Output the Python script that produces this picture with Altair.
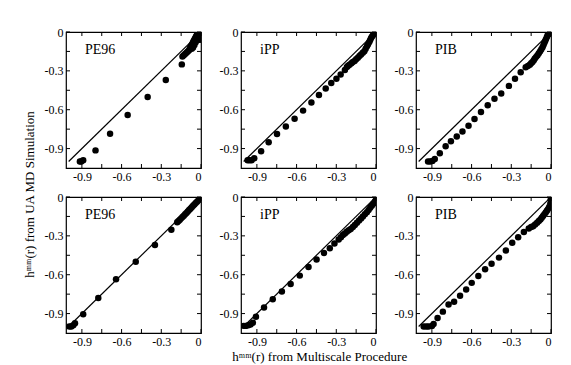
import altair as alt
import pandas as pd

FONT = "Liberation Serif"

# ---- data ----
names = ["PE96", "iPP", "PIB", "PE96", "iPP", "PIB"]

pe96_top_x = [-0.915, -0.905, -0.89, -0.797, -0.687, -0.554, -0.403, -0.266, -0.145,
              -0.14, -0.13, -0.12, -0.11, -0.10, -0.09, -0.085, -0.08, -0.075, -0.07,
              -0.065, -0.06, -0.055, -0.05, -0.045, -0.04, -0.035, -0.03, -0.025, -0.02,
              -0.015, -0.01, -0.05, -0.04, -0.03, -0.02, -0.06, -0.07, -0.01, -0.005]
pe96_top_y = [-1.0, -1.0, -0.99, -0.914, -0.785, -0.641, -0.502, -0.371, -0.25,
              -0.19, -0.18, -0.17, -0.16, -0.15, -0.14, -0.13, -0.12, -0.11, -0.10,
              -0.09, -0.08, -0.07, -0.06, -0.05, -0.04, -0.03, -0.02, -0.015, -0.01,
              -0.005, 0.0, -0.1, -0.08, -0.06, -0.04, -0.12, -0.13, -0.06, -0.03]

ipp_top_x = [-0.97, -0.955, -0.94, -0.92, -0.868, -0.811, -0.748, -0.681, -0.615, -0.551,
             -0.488, -0.431, -0.38, -0.338, -0.299, -0.267, -0.235,
             -0.22, -0.211, -0.2, -0.186, -0.175, -0.162, -0.15, -0.137, -0.125, -0.113,
             -0.1, -0.088, -0.078, -0.068, -0.06, -0.051, -0.044, -0.037, -0.03, -0.022,
             -0.016, -0.01, -0.005]
ipp_top_y = [-0.99, -0.99, -0.99, -0.975, -0.92, -0.852, -0.787, -0.729, -0.669, -0.607,
             -0.544, -0.486, -0.436, -0.393, -0.361, -0.328, -0.293,
             -0.27, -0.261, -0.252, -0.241, -0.232, -0.223, -0.21, -0.198, -0.186, -0.173,
             -0.16, -0.148, -0.13, -0.11, -0.094, -0.078, -0.062, -0.047, -0.035, -0.023,
             -0.015, -0.01, -0.004]

pib_top_x = [-0.929, -0.911, -0.896, -0.878, -0.84, -0.796, -0.756, -0.712, -0.669, -0.623,
             -0.578, -0.529, -0.478, -0.427, -0.376, -0.318, -0.272, -0.229, -0.191,
             -0.175, -0.16, -0.15, -0.14, -0.13, -0.122, -0.112, -0.102, -0.092, -0.082,
             -0.073, -0.064, -0.057, -0.051, -0.044, -0.038, -0.031, -0.025, -0.019,
             -0.013, -0.007]
pib_top_y = [-1.0, -1.0, -0.995, -0.98, -0.937, -0.882, -0.844, -0.807, -0.769, -0.724,
             -0.672, -0.617, -0.566, -0.516, -0.474, -0.416, -0.361, -0.311, -0.273,
             -0.262, -0.253, -0.242, -0.231, -0.218, -0.205, -0.192, -0.18, -0.164, -0.148,
             -0.133, -0.118, -0.1, -0.085, -0.07, -0.055, -0.039, -0.023, -0.016,
             -0.01, -0.004]

pe96_bot_x = [-0.995, -0.98, -0.965, -0.952, -0.89, -0.776, -0.642, -0.493, -0.348, -0.224,
              -0.18, -0.17, -0.16, -0.15, -0.14, -0.13, -0.12, -0.11, -0.10, -0.09,
              -0.08, -0.07, -0.06, -0.05, -0.04, -0.03, -0.02, -0.01, 0.0]
pe96_bot_y = [-1.0, -1.0, -0.99, -0.975, -0.905, -0.78, -0.635, -0.5, -0.37, -0.253,
              -0.195, -0.185, -0.175, -0.165, -0.155, -0.145, -0.134, -0.123, -0.112, -0.101,
              -0.09, -0.079, -0.068, -0.057, -0.046, -0.036, -0.026, -0.016, -0.008]

ipp_bot_x = [-1.0, -0.985, -0.965, -0.948, -0.93, -0.907, -0.846, -0.78, -0.711, -0.645,
             -0.576, -0.51, -0.449, -0.393, -0.349, -0.314, -0.282,
             -0.265, -0.25, -0.235, -0.221, -0.206, -0.191, -0.175, -0.16, -0.144, -0.128,
             -0.113, -0.099, -0.084, -0.069, -0.056, -0.044, -0.032, -0.02, -0.01, -0.003]
ipp_bot_y = [-0.995, -0.995, -0.99, -0.985, -0.97, -0.924, -0.854, -0.789, -0.729, -0.672,
             -0.607, -0.541, -0.482, -0.432, -0.396, -0.359, -0.328,
             -0.31, -0.294, -0.281, -0.268, -0.257, -0.247, -0.232, -0.216, -0.199, -0.182,
             -0.166, -0.151, -0.134, -0.117, -0.1, -0.083, -0.067, -0.052, -0.038, -0.026]

pib_bot_x = [-0.962, -0.942, -0.925, -0.9, -0.887, -0.857, -0.817, -0.774, -0.732, -0.687,
             -0.641, -0.599, -0.549, -0.498, -0.449, -0.393, -0.341, -0.293, -0.248, -0.205,
             -0.168, -0.15, -0.135, -0.12, -0.105, -0.092, -0.08, -0.07, -0.06, -0.05,
             -0.04, -0.031, -0.023, -0.014, -0.005, -0.002]
pib_bot_y = [-1.0, -1.0, -1.0, -0.995, -0.98, -0.935, -0.885, -0.83, -0.808, -0.762,
             -0.715, -0.663, -0.61, -0.558, -0.515, -0.468, -0.413, -0.353, -0.31, -0.27,
             -0.243, -0.232, -0.225, -0.212, -0.199, -0.186, -0.173, -0.16, -0.147, -0.134,
             -0.12, -0.107, -0.094, -0.078, -0.05, -0.02]

diag = [-1.0, 0.0]
tick_values = [-0.9, -0.75, -0.6, -0.45, -0.3, -0.15, 0.0]
label_values = [-0.9, -0.6, -0.3, 0.0]

x_title = "hᵐᵐ(r) from Multiscale Procedure"
y_title = "hᵐᵐ(r) from UA MD Simulation"

# ---- chart ----
W, H = 135, 136
XDOM = [-1.02, 0]
YDOM = [-1.05, 0]
TL = 4
LABEL_EXPR = "datum.value == 0 ? '0' : '-0.' + round(-datum.value * 10)"


def make_axis():
    return alt.Axis(values=label_values, labelExpr=LABEL_EXPR, tickSize=0, domain=False,
                    grid=False, title=None, labelFont=FONT, labelFontSize=12,
                    labelColor="black", labelPadding=3)


def panel(name, xs, ys):
    xsc = alt.Scale(domain=XDOM, nice=False, zero=False)
    ysc = alt.Scale(domain=YDOM, nice=False, zero=False)
    pts = pd.DataFrame({"x": xs, "y": ys})
    points = alt.Chart(pts).mark_circle(size=42, color="black", opacity=1, clip=True).encode(
        x=alt.X("x:Q", scale=xsc, axis=make_axis()),
        y=alt.Y("y:Q", scale=ysc, axis=make_axis()),
    )
    line = alt.Chart(pd.DataFrame({"x": diag, "y": diag})).mark_line(
        color="black", strokeWidth=1.2, clip=True).encode(
        x=alt.X("x:Q", scale=xsc, axis=make_axis()),
        y=alt.Y("y:Q", scale=ysc, axis=make_axis()),
    )
    tdf = pd.DataFrame({"t": tick_values})
    top = alt.Chart(tdf).mark_rule(color="black").encode(
        x=alt.X("t:Q", scale=xsc, axis=make_axis()), y=alt.value(0), y2=alt.value(TL))
    bot = alt.Chart(tdf).mark_rule(color="black").encode(
        x=alt.X("t:Q", scale=xsc, axis=make_axis()), y=alt.value(H), y2=alt.value(H - TL))
    left = alt.Chart(tdf).mark_rule(color="black").encode(
        y=alt.Y("t:Q", scale=ysc, axis=make_axis()), x=alt.value(0), x2=alt.value(TL))
    right = alt.Chart(tdf).mark_rule(color="black").encode(
        y=alt.Y("t:Q", scale=ysc, axis=make_axis()), x=alt.value(W), x2=alt.value(W - TL))
    label = alt.Chart(pd.DataFrame({"n": [name]})).mark_text(
        align="left", baseline="alphabetic", font=FONT, fontSize=14, color="black").encode(
        text="n:N", x=alt.value(19), y=alt.value(22))
    return alt.layer(line, points, top, bot, left, right, label).properties(width=W, height=H)


data = [(pe96_top_x, pe96_top_y), (ipp_top_x, ipp_top_y), (pib_top_x, pib_top_y),
        (pe96_bot_x, pe96_bot_y), (ipp_bot_x, ipp_bot_y), (pib_bot_x, pib_bot_y)]
panels = [panel(n, d[0], d[1]) for n, d in zip(names, data)]

row1 = alt.hconcat(*panels[:3], spacing=15)
row2 = alt.hconcat(*panels[3:], spacing=15)
grid = alt.vconcat(row1, row2, spacing=7).properties(
    title=alt.TitleParams(x_title, orient="bottom", anchor="middle", font=FONT, fontSize=13,
                          fontWeight="normal", color="black", offset=3, dx=22))
chart = alt.hconcat(grid).properties(
    title=alt.TitleParams(y_title, orient="left", anchor="middle", font=FONT, fontSize=13,
                          fontWeight="normal", color="black", offset=6),
    padding={"left": 16, "top": 17, "right": 0, "bottom": 0},
).configure_view(stroke="black", strokeWidth=1.2)

chart.save("out.html", embed_options={"renderer": "svg", "actions": False})
